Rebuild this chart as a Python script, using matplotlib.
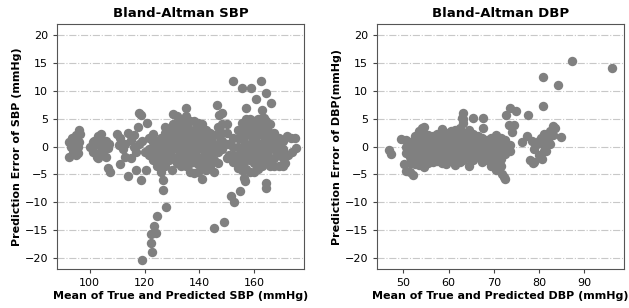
import matplotlib
matplotlib.use("Agg")
import matplotlib.pyplot as plt

# (mean of true and predicted, prediction error)
sbp_points = [
    # ~92-97 group
    (92.3, 0.8), (92.5, -1.8), (93.0, 0.0), (93.5, 1.5), (94.0, -0.5), (94.5, 1.0),
    (95.0, 2.0), (95.5, 0.0), (95.8, -1.2), (96.0, 3.0), (96.3, 2.2), (96.0, 0.8),
    (94.8, -1.5), (93.8, -1.2),
    # ~100-108 group
    (100.0, 0.0), (101.0, -1.0), (101.5, 1.0), (102.0, 0.3), (102.5, -1.8), (103.0, 1.8),
    (103.5, 0.5), (104.0, -0.8), (104.0, 2.2), (104.5, 1.0), (105.0, -1.5), (105.5, 0.0),
    (106.0, 1.0), (106.5, -0.3), (107.0, 0.5), (103.0, -2.0), (101.0, 0.8), (106.0, -1.8),
    (106.5, -3.8), (107.5, -4.6),
    # ~109-121 group
    (110.0, 2.2), (111.0, 1.5), (112.0, -0.5), (113.0, -1.8), (114.0, 2.5), (115.0, 1.2),
    (116.0, 0.0), (116.0, 2.0), (117.0, -1.0), (118.0, 0.5), (111.0, -3.2), (114.0, -5.3),
    (117.0, -4.2), (118.6, -6.0), (120.5, -4.3), (118.0, 6.0), (118.8, 5.6), (117.5, 3.5),
    (121.0, 4.2), (113.0, 0.5), (115.0, -2.0), (119.0, 1.0), (120.0, -1.0), (110.5, 0.3),
    # low tail
    (118.9, -20.3), (122.6, -18.9), (122.3, -17.3), (122.3, -15.8), (124.1, -15.5),
    (123.5, -14.2), (124.7, -12.5), (127.9, -10.8), (126.9, -7.8), (126.9, -6.0),
    (130.0, -4.3), (141.0, -5.8), (145.5, -14.6), (148.9, -13.5), (151.6, -8.9),
    (152.8, -10.0), (155.0, -8.0), (156.7, -6.2), (156.3, -5.6),
    # ~121-150 group
    (121.5, 1.5), (121.5, -0.5), (121.5, -1.5),
    (123.0, 2.2), (123.0, 0.8), (123.0, -0.8), (123.0, -2.5),
    (124.5, 1.0), (124.5, -0.5), (124.5, -2.0), (124.5, -3.5),
    (126.0, 1.5), (126.0, 0.0), (126.0, -1.5), (126.0, -3.0), (126.0, -4.5),
    (127.5, 3.5), (127.5, 2.5), (127.5, 1.0), (127.5, -0.5), (127.5, -2.0), (127.5, -3.5),
    (129.0, 3.0), (129.0, 1.8), (129.0, 0.5), (129.0, -1.0), (129.0, -2.5),
    (130.5, 5.8), (130.5, 4.0), (130.5, 2.5), (130.5, 1.0), (130.5, -0.5), (130.5, -2.0),
    (132.0, 5.5), (132.0, 4.0), (132.0, 2.8), (132.0, 1.2), (132.0, -0.3), (132.0, -1.8), (132.0, -3.0),
    (133.5, 5.0), (133.5, 3.5), (133.5, 2.0), (133.5, 0.5), (133.5, -1.0), (133.5, -2.5), (133.5, -3.5),
    (135.0, 7.0), (135.0, 5.5), (135.0, 4.0), (135.0, 2.5), (135.0, 1.0), (135.0, -0.5),
    (135.0, -2.0), (135.0, -3.5),
    (136.5, 4.5), (136.5, 3.0), (136.5, 1.5), (136.5, 0.0), (136.5, -1.5), (136.5, -3.0), (136.5, -4.5),
    (138.0, 4.5), (138.0, 3.0), (138.0, 1.8), (138.0, 0.3), (138.0, -1.2), (138.0, -2.8), (138.0, -4.8),
    (139.5, 4.2), (139.5, 2.8), (139.5, 1.2), (139.5, -0.3), (139.5, -1.8), (139.5, -3.2), (139.5, -4.5),
    (141.0, 4.0), (141.0, 2.5), (141.0, 1.0), (141.0, -0.5), (141.0, -2.0), (141.0, -3.5),
    (142.5, 3.0), (142.5, 1.5), (142.5, 0.0), (142.5, -1.5), (142.5, -3.0), (142.5, -4.2),
    (144.0, 2.5), (144.0, 1.0), (144.0, -0.5), (144.0, -2.0), (144.0, -3.5),
    (145.5, 2.0), (145.5, 0.5), (145.5, -1.0), (145.5, -2.5), (145.5, -4.5),
    (146.6, 7.5), (147.2, 5.7), (147.0, 3.5), (147.0, 2.0), (147.0, 0.5), (147.0, -1.0), (147.0, -3.0),
    (148.4, 6.0), (148.5, 4.0), (148.5, 2.5), (148.5, 1.0), (148.5, -0.5),
    (150.0, 4.0), (150.0, 2.5), (150.0, 0.5), (150.0, -2.0),
    # ~151-176 group
    (151.0, 0.5), (151.0, -1.5),
    (152.5, 1.5), (152.5, 0.0), (152.5, -1.5), (152.5, -2.8),
    (154.0, 3.0), (154.0, 1.5), (154.0, 0.0), (154.0, -1.5), (154.0, -3.0), (154.0, -3.8),
    (155.5, 4.2), (155.5, 2.8), (155.5, 1.3), (155.5, -0.2), (155.5, -1.7), (155.5, -3.2), (155.5, -4.2),
    (157.0, 5.0), (157.0, 3.5), (157.0, 2.0), (157.0, 0.5), (157.0, -1.0), (157.0, -2.5), (157.0, -4.0),
    (158.5, 5.0), (158.5, 3.5), (158.5, 2.0), (158.5, 0.5), (158.5, -1.0), (158.5, -2.5), (158.5, -4.5),
    (160.0, 4.5), (160.0, 3.0), (160.0, 1.5), (160.0, 0.0), (160.0, -1.5), (160.0, -3.0), (160.0, -4.5),
    (161.5, 5.0), (161.5, 3.5), (161.5, 2.0), (161.5, 0.5), (161.5, -1.0), (161.5, -2.5), (161.5, -4.0),
    (163.0, 5.2), (163.0, 3.7), (163.0, 2.2), (163.0, 0.7), (163.0, -0.8), (163.0, -2.3), (163.0, -3.5),
    (164.5, 4.5), (164.5, 3.0), (164.5, 1.5), (164.5, 0.0), (164.5, -1.5), (164.5, -3.0),
    (166.0, 4.0), (166.0, 2.5), (166.0, 1.0), (166.0, -0.5), (166.0, -2.0), (166.0, -3.5),
    (167.5, 2.5), (167.5, 1.0), (167.5, -0.5), (167.5, -2.0), (167.5, -3.5),
    (169.0, 1.5), (169.0, 0.0), (169.0, -1.5), (169.0, -3.5),
    (170.5, 1.0), (170.5, -0.5), (170.5, -2.0), (170.5, -3.5),
    (172.0, 1.8), (173.5, 1.6), (175.0, 1.6), (175.5, -0.2), (172.5, -1.5), (171.5, -3.0),
    (174.0, -1.0),
    # high outliers
    (152.5, 11.85), (155.7, 10.5), (158.8, 10.5), (162.5, 11.85), (164.3, 9.6),
    (160.6, 8.6), (166.1, 7.8), (157.0, 6.9), (163.1, 6.6), (163.7, 5.1),
    (164.3, -6.5), (164.3, -7.4),
]

dbp_points = [
    # outliers and sparse points
    (46.8, -0.66), (47.4, -1.26), (49.6, 1.26), (50.2, -3.2), (50.7, -4.4), (52.1, -5.2),
    (51.8, -2.9), (54.1, 3.35), (63.3, 6.0), (65.5, 5.1), (67.7, 5.1), (67.7, 3.35),
    (62.9, 5.15), (72.8, 5.7), (73.6, 6.9), (75.0, 6.3), (73.4, 3.95), (74.5, 3.95),
    (74.1, 2.6), (76.2, 0.8), (77.3, 1.9), (77.5, 5.7), (80.8, 12.5), (80.8, 7.2),
    (84.3, 11.0), (87.2, 15.4), (96.2, 14.1), (84.8, 1.7), (83.2, 3.65), (78.0, -2.5),
    (78.7, -2.9), (72.3, -5.5), (72.4, -5.9), (71.9, -4.85), (80.6, -2.2), (81.1, -0.8),
    (80.2, 1.0),
    # ~78-84 group
    (78.5, 1.0), (79.0, -0.5), (79.5, 0.5), (80.0, -1.5), (80.5, 1.5), (81.0, 0.3),
    (81.0, 2.2), (81.5, -0.8), (82.0, 1.2), (82.5, 0.5), (83.0, 2.0), (83.5, 3.3),
    (82.5, 2.8), (80.0, 1.0), (79.0, -2.8),
    # main group
    (50.5, 1.2), (50.5, 0.0), (50.5, -1.2),
    (51.5, 0.8), (51.5, -0.5), (51.5, -1.8), (51.5, -3.0), (51.5, -4.5),
    (52.5, 1.8), (52.5, 0.5), (52.5, -0.8), (52.5, -2.0), (52.5, -3.2),
    (53.5, 2.8), (53.5, 1.5), (53.5, 0.2), (53.5, -1.0), (53.5, -2.2), (53.5, -3.3),
    (54.5, 3.5), (54.5, 2.2), (54.5, 1.0), (54.5, -0.3), (54.5, -1.5), (54.5, -2.7), (54.5, -3.6),
    (55.5, 2.0), (55.5, 0.8), (55.5, -0.5), (55.5, -1.7), (55.5, -2.9),
    (56.5, 1.8), (56.5, 0.5), (56.5, -0.8), (56.5, -2.0), (56.5, -2.8),
    (57.5, 2.2), (57.5, 1.0), (57.5, -0.3), (57.5, -1.5), (57.5, -2.6),
    (58.5, 3.2), (58.5, 2.0), (58.5, 0.7), (58.5, -0.5), (58.5, -1.8), (58.5, -3.0),
    (59.5, 2.5), (59.5, 1.3), (59.5, 0.0), (59.5, -1.2), (59.5, -2.5), (59.5, -3.2),
    (60.5, 2.8), (60.5, 1.5), (60.5, 0.3), (60.5, -1.0), (60.5, -2.2),
    (61.5, 3.0), (61.5, 1.8), (61.5, 0.5), (61.5, -0.8), (61.5, -2.0), (61.5, -3.3),
    (62.5, 3.3), (62.5, 2.0), (62.5, 0.8), (62.5, -0.5), (62.5, -1.7), (62.5, -2.8),
    (63.3, 5.0), (63.3, 4.2), (63.3, 2.5), (63.3, 1.2), (63.3, 0.0), (63.3, -1.2), (63.3, -2.4),
    (64.5, 3.0), (64.5, 1.8), (64.5, 0.5), (64.5, -0.8), (64.5, -2.0), (64.5, -3.5),
    (65.5, 2.2), (65.5, 1.0), (65.5, -0.3), (65.5, -1.5), (65.5, -2.5),
    (66.5, 1.8), (66.5, 0.6), (66.5, -0.6), (66.5, -1.8),
    (67.5, 1.5), (67.5, 0.3), (67.5, -1.0), (67.5, -2.2), (67.5, -2.8),
    (68.5, 1.2), (68.5, 0.0), (68.5, -1.2), (68.5, -2.5),
    (69.5, 1.5), (69.5, 0.3), (69.5, -1.0), (69.5, -2.2), (69.5, -3.5),
    (70.5, 2.0), (70.5, 0.8), (70.5, -0.5), (70.5, -1.7), (70.5, -3.0), (70.5, -4.3),
    (71.5, 1.5), (71.5, 0.3), (71.5, -1.0), (71.5, -2.3), (71.5, -3.5),
    (72.5, 1.2), (72.5, 0.0), (72.5, -1.3),
    (73.5, 0.3), (73.5, -0.8),
]

titles = ["Bland-Altman SBP", "Bland-Altman DBP"]
xlabels = ["Mean of True and Predicted SBP (mmHg)", "Mean of True and Predicted DBP (mmHg)"]
ylabels = ["Prediction Error of SBP (mmHg)", "Prediction Error of DBP(mmHg)"]
yticks = [-20, -15, -10, -5, 0, 5, 10, 15, 20]

DOT_COLOR = "#808080"


def draw_panel(ax, points, title, xlabel, ylabel):
    xs = [p[0] for p in points]
    ys = [p[1] for p in points]
    ax.scatter(xs, ys, s=46, c=DOT_COLOR, linewidths=0, zorder=3)
    ax.set_ylim(-22, 22)
    ax.set_yticks(yticks)
    ax.grid(axis="y", linestyle="-.", color="#c8c8c8", linewidth=0.8, zorder=0)
    ax.set_title(title, fontsize=9.5, fontweight="bold", pad=5)
    ax.set_xlabel(xlabel, fontsize=8, fontweight="bold", labelpad=2)
    ax.set_ylabel(ylabel, fontsize=8, fontweight="bold", labelpad=2)
    ax.tick_params(labelsize=8, length=3, color="#444444")
    for spine in ax.spines.values():
        spine.set_color("#555555")


fig = plt.figure(figsize=(6.29, 3.08), dpi=100)
ax1 = fig.add_axes([0.0906, 0.1266, 0.3927, 0.7955])
ax2 = fig.add_axes([0.5994, 0.1266, 0.3927, 0.7955])

draw_panel(ax1, sbp_points, titles[0], xlabels[0], ylabels[0])
ax1.set_xlim(88, 178.3)
ax1.set_xticks([100, 120, 140, 160])

draw_panel(ax2, dbp_points, titles[1], xlabels[1], ylabels[1])
ax2.set_xlim(44.2, 98.8)
ax2.set_xticks([50, 60, 70, 80, 90])

fig.savefig("out.png", dpi=100)
